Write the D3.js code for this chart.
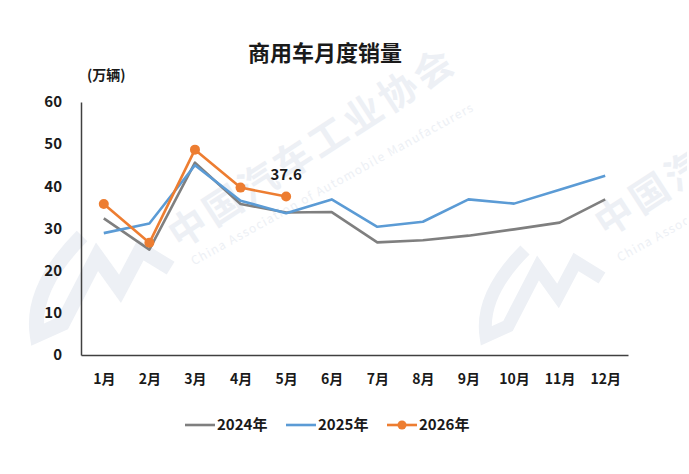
<!DOCTYPE html>
<html>
  <head>
    <meta charset="utf-8">
    <title>商用车月度销量</title>
    <script src="https://d3js.org/d3.v7.min.js"></script>
    <style>
      body { margin: 0; background: #fff; font-family: "Noto Sans CJK SC", "Noto Sans", sans-serif; }
      text { font-weight: bold; fill: #1a1a1a; }
    </style>
  </head>
  <body>
    <div id="chart"></div>
    <script>
      // data (万辆)
      var months = ["1月", "2月", "3月", "4月", "5月", "6月", "7月", "8月", "9月", "10月", "11月", "12月"];
      var years = ["2024年", "2025年", "2026年"];
      var v2024 = [32.4, 25.0, 45.6, 35.8, 33.8, 33.9, 26.7, 27.2, 28.3, 29.8, 31.4, 36.9];
      var v2025 = [28.9, 31.2, 45.0, 36.6, 33.6, 36.9, 30.4, 31.6, 36.9, 35.9, 39.2, 42.5];
      var v2026 = [35.8, 26.6, 48.7, 39.7, 37.6];
      var yTicks = [0, 10, 20, 30, 40, 50, 60];
      var colors = ["#7f7f7f", "#5b9bd5", "#ed7d31"];

      var width = 689, height = 474;
      var svg = d3.select("#chart").append("svg")
        .attr("width", width)
        .attr("height", height);

      svg.append("rect").attr("width", width).attr("height", height).attr("fill", "#fff");

      // faint watermark (clipped at the right edge like the original)
      svg.append("clipPath").attr("id", "page")
        .append("rect").attr("width", width - 2).attr("height", height);
      var wmColor = "#edf0f5";
      var wm = svg.append("g").attr("clip-path", "url(#page)");
      function logo(tx, ty, k) {
        wm.append("path")
          .attr("transform", "translate(" + tx + "," + ty + ") scale(" + k + ")")
          .attr("fill", "none")
          .attr("stroke", wmColor)
          .attr("stroke-width", 13)
          .attr("d", "M47,0 Q2,45 8,86 L30,76 L60,18 L80,46 L98,12 L124,28");
      }
      logo(478, 250, 1);
      logo(28, 236, 1.15);
      function wmText(tx, ty, anchor) {
        wm.append("text")
          .attr("transform", "translate(" + tx + "," + ty + ") rotate(-33)")
          .attr("text-anchor", anchor)
          .style("fill", wmColor)
          .style("font-size", "38px")
          .attr("textLength", 330)
          .text("中国汽车工业协会");
        wm.append("text")
          .attr("transform", "translate(" + (tx + (anchor === "middle" ? 16 : 14)) + "," + (ty + (anchor === "middle" ? 28 : 24)) + ") rotate(-29)")
          .attr("text-anchor", anchor)
          .style("fill", wmColor)
          .style("font-size", "12px")
          .style("font-weight", "normal")
          .attr("textLength", 320)
          .text("China Association of Automobile Manufacturers");
      }
      wmText(318, 160, "middle");
      wmText(606, 238, "start");

      var x = d3.scalePoint().domain(months).range([81, 628]).padding(0.5);
      var y = d3.scaleLinear().domain([0, 60]).range([355, 102]);

      // axes
      var yAxis = svg.append("g")
        .attr("transform", "translate(81,0)")
        .call(d3.axisLeft(y).tickValues(yTicks).tickSize(0).tickPadding(19));
      var xAxis = svg.append("g")
        .attr("transform", "translate(0,355)")
        .call(d3.axisBottom(x).tickSize(0).tickPadding(19));
      [xAxis, yAxis].forEach(function(a) {
        a.select(".domain").attr("stroke", "#404040").attr("stroke-width", 1.5);
        a.selectAll("text")
          .style("font-family", "'Noto Sans CJK SC', sans-serif")
          .style("font-weight", "bold")
          .attr("fill", "#1a1a1a");
      });
      xAxis.selectAll("text").style("font-size", "14px");
      yAxis.selectAll("text").style("font-size", "15px");

      // title and unit
      svg.append("text")
        .attr("x", 325).attr("y", 61)
        .attr("text-anchor", "middle")
        .style("font-size", "22px")
        .text("商用车月度销量");
      svg.append("text")
        .attr("x", 87).attr("y", 80)
        .style("font-size", "14px")
        .text("(万辆)");

      // lines
      var line = d3.line()
        .x(function(d, i) { return x(months[i]); })
        .y(function(d) { return y(d); });
      var series = [v2024, v2025, v2026];
      series.forEach(function(s, k) {
        svg.append("path")
          .datum(s)
          .attr("fill", "none")
          .attr("stroke", colors[k])
          .attr("stroke-width", 2.6)
          .attr("stroke-linejoin", "round")
          .attr("d", line);
      });
      svg.selectAll(".dot")
        .data(v2026)
        .enter().append("circle")
          .attr("cx", function(d, i) { return x(months[i]); })
          .attr("cy", function(d) { return y(d); })
          .attr("r", 5)
          .attr("fill", colors[2]);

      // last value label
      var last = v2026.length - 1;
      svg.append("text")
        .attr("x", x(months[last]))
        .attr("y", y(v2026[last]) - 16)
        .attr("text-anchor", "middle")
        .style("font-size", "15px")
        .text(v2026[last].toFixed(1));

      // legend
      var legX = [185, 286, 387];
      var leg = svg.selectAll(".leg")
        .data(years)
        .enter().append("g")
          .attr("transform", function(d, i) { return "translate(" + legX[i] + ",425)"; });
      leg.append("line")
        .attr("x1", 0).attr("x2", 30)
        .attr("stroke", function(d, i) { return colors[i]; })
        .attr("stroke-width", 2.6);
      leg.filter(function(d, i) { return i === 2; })
        .append("circle")
          .attr("cx", 15).attr("r", 4.5)
          .attr("fill", colors[2]);
      leg.append("text")
        .attr("x", 32).attr("dy", "0.36em")
        .style("font-size", "15px")
        .text(function(d) { return d; });
    </script>
  </body>
</html>
